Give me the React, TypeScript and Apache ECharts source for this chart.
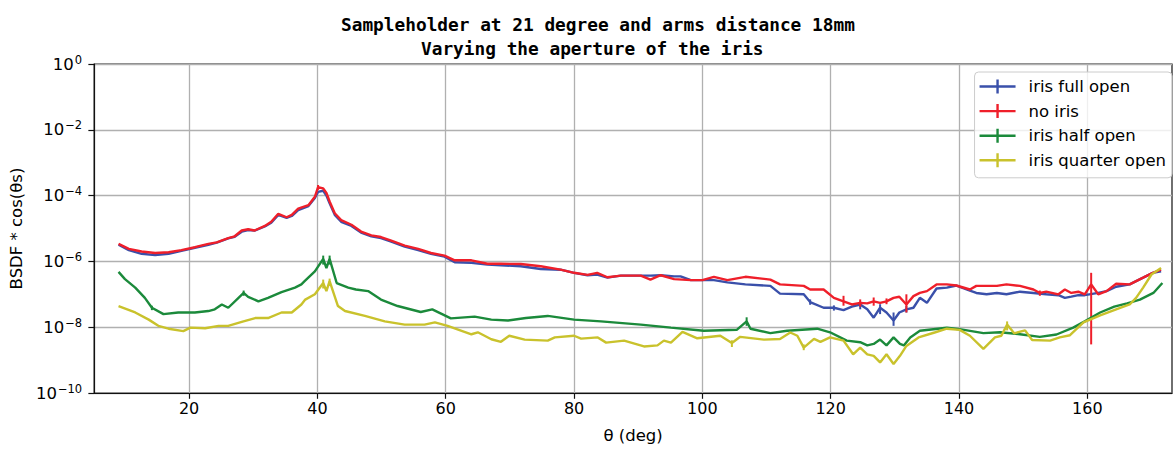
import React, { useEffect, useRef } from "react";
import * as echarts from "echarts";

const TITLE_LINE_1 = "Sampleholder at 21 degree and arms distance 18mm";
const TITLE_LINE_2 = "Varying the aperture of the iris";
const X_NAME = "θ (deg)";
const Y_NAME = "BSDF * cos(θs)";
const X_TICKS = [20, 40, 60, 80, 100, 120, 140, 160];
const Y_TICKS = [1e-10, 1e-8, 1e-6, 1e-4, 1e-2, 1];

const SERIES_NAMES = ["iris full open", "no iris", "iris half open", "iris quarter open"];
const SERIES_COLORS = ["#3a50aa", "#ef1f2a", "#1b8a3b", "#c9c22c"];

// [theta (deg), BSDF*cos]
const irisFullOpen = [
  [9, 3.2e-6], [10.6, 2.2e-6], [12.6, 1.7e-6], [14.7, 1.55e-6], [16.8, 1.7e-6], [18.8, 2.1e-6],
  [20.9, 2.6e-6], [23, 3.2e-6], [24.3, 3.7e-6], [26.1, 5.0e-6], [27.1, 5.6e-6], [28.2, 8.0e-6],
  [29.2, 9.0e-6], [30.2, 8.6e-6], [31.8, 1.15e-5], [32.8, 1.5e-5], [33.9, 2.6e-5], [35.2, 2.1e-5],
  [36, 2.4e-5], [37, 3.6e-5], [38.6, 4.8e-5], [39.6, 8.5e-5], [40.1, 1.3e-4], [40.9, 1.4e-4],
  [41.4, 1.0e-4], [41.9, 5.8e-5], [42.7, 2.6e-5], [43.7, 1.6e-5], [45.3, 1.2e-5], [46.8, 7.5e-6],
  [48.4, 5.8e-6], [49.9, 5.1e-6], [51.5, 4.0e-6], [53.6, 2.8e-6], [55.7, 2.2e-6], [57.7, 1.7e-6],
  [59.8, 1.4e-6], [61.4, 9.4e-7], [64, 9.0e-7], [66.5, 8.0e-7], [68.6, 7.6e-7], [71.7, 7.1e-7],
  [74.8, 5.9e-7], [77.9, 5.6e-7], [80, 4.5e-7], [82.1, 3.8e-7], [83.6, 4.0e-7], [85.2, 3.2e-7],
  [87.3, 3.7e-7], [90.4, 3.7e-7], [91.9, 3.7e-7], [93.5, 3.8e-7], [95.6, 3.5e-7], [96.6, 3.5e-7],
  [98.2, 2.7e-7], [100, 2.7e-7], [101.8, 2.7e-7], [103.9, 2.3e-7], [106.7, 2.0e-7], [110.6, 1.8e-7],
  [112.1, 1.05e-7], [115.8, 1.0e-7], [116.8, 5.8e-8], [118.9, 3.9e-8], [120.5, 3.9e-8], [122, 3.3e-8],
  [123.3, 4.2e-8], [124.6, 4.9e-8], [125.7, 3.5e-8], [126.7, 1.95e-8], [127.7, 3.9e-8], [128.7, 2.8e-8],
  [129.8, 1.6e-8], [130.7, 2.8e-8], [131.8, 3.5e-8], [132.9, 3.9e-8], [133.9, 7.8e-8], [135, 5.5e-8],
  [136.5, 1.5e-7], [138.1, 1.6e-7], [139.6, 1.85e-7], [141.7, 1.3e-7], [142.7, 1.1e-7], [144.3, 1.0e-7],
  [145.9, 1.1e-7], [147.4, 1.0e-7], [149.5, 1.2e-7], [151.6, 1.1e-7], [153.6, 1.0e-7], [155.5, 9.4e-8],
  [156.5, 7.8e-8], [157.5, 8.5e-8], [158.6, 9.4e-8], [159.6, 9.4e-8], [161.7, 1.1e-7], [163, 1.25e-7],
  [164.5, 1.7e-7], [166.6, 2.0e-7], [168.7, 3.2e-7], [170.2, 4.5e-7], [171.5, 5.0e-7],
];

const noIris = [
  [9, 3.4e-6], [10.6, 2.4e-6], [12.6, 2.0e-6], [14.7, 1.8e-6], [16.8, 1.9e-6], [18.8, 2.2e-6],
  [20.9, 2.7e-6], [23, 3.4e-6], [24.3, 3.8e-6], [26.1, 5.1e-6], [27.1, 5.8e-6], [28.2, 8.7e-6],
  [29.2, 9.5e-6], [30.2, 8.7e-6], [31.8, 1.2e-5], [32.8, 1.6e-5], [33.9, 2.8e-5], [35.2, 2.2e-5],
  [36, 2.6e-5], [37, 4.0e-5], [38.6, 5.1e-5], [39.6, 9.2e-5], [40.1, 1.8e-4], [40.9, 1.65e-4],
  [41.4, 1.2e-4], [41.9, 6.6e-5], [42.7, 2.9e-5], [43.7, 1.8e-5], [45.3, 1.3e-5], [46.8, 8.1e-6],
  [48.4, 6.2e-6], [49.9, 5.5e-6], [51.5, 4.3e-6], [53.6, 3.0e-6], [55.7, 2.4e-6], [57.7, 1.8e-6],
  [59.8, 1.5e-6], [61.4, 1.08e-6], [64, 1.08e-6], [66.5, 8.5e-7], [68.6, 8.5e-7], [71.7, 8.3e-7],
  [74.8, 7.1e-7], [77.9, 5.6e-7], [80, 4.5e-7], [82.1, 3.9e-7], [83.6, 4.5e-7], [85.2, 3.3e-7],
  [87.3, 3.7e-7], [90.4, 3.7e-7], [91.9, 2.8e-7], [93.5, 3.8e-7], [95.6, 2.9e-7], [98.2, 2.7e-7],
  [100, 2.7e-7], [101.8, 3.4e-7], [103.9, 2.7e-7], [106.7, 3.4e-7], [110.6, 2.8e-7], [112.1, 2.0e-7],
  [115.8, 1.8e-7], [116.8, 1.4e-7], [118.9, 1.4e-7], [120.5, 7.8e-8], [122, 6.1e-8], [123.3, 4.9e-8],
  [124.6, 5.5e-8], [125.7, 5.3e-8], [126.7, 6.1e-8], [127.7, 5.5e-8], [128.7, 6.1e-8], [129.8, 7.8e-8],
  [130.7, 8.4e-8], [131.8, 4.9e-8], [132.9, 8.8e-8], [133.9, 1.1e-7], [135, 1.25e-7], [136.5, 2.0e-7],
  [138.1, 2.0e-7], [139.6, 1.85e-7], [141.7, 1.4e-7], [142.7, 1.8e-7], [144.3, 1.8e-7], [145.9, 1.8e-7],
  [147.4, 2.0e-7], [149.5, 1.8e-7], [151.6, 1.4e-7], [152.6, 1.1e-7], [153.6, 1.2e-7], [155.5, 1.0e-7],
  [156.5, 1.4e-7], [157.5, 1.1e-7], [158.6, 1.2e-7], [159.6, 1.0e-7], [160.6, 2.0e-7], [161.7, 1.0e-7],
  [163, 1.25e-7], [164.5, 2.1e-7], [166.6, 2.0e-7], [168.7, 3.2e-7], [170.2, 4.5e-7], [171.5, 5.6e-7],
];

const irisHalfOpen = [
  [9, 4.8e-7], [10, 2.9e-7], [11.6, 1.6e-7], [13.1, 7.8e-8], [14.2, 3.9e-8], [16, 2.5e-8],
  [18.3, 2.8e-8], [20.9, 2.8e-8], [23, 3.1e-8], [24, 3.5e-8], [25.1, 4.9e-8], [26.1, 3.9e-8],
  [27.7, 7.8e-8], [28.5, 1.1e-7], [29.2, 8.4e-8], [30.8, 6.1e-8], [32.3, 7.8e-8], [34.4, 1.17e-7],
  [36.5, 1.6e-7], [37.5, 2.0e-7], [38, 2.5e-7], [39.6, 5.0e-7], [40.9, 1.2e-6], [41.4, 6.3e-7],
  [41.9, 1.2e-6], [43, 2.2e-7], [44.8, 1.6e-7], [46, 1.4e-7], [47.9, 1.25e-7], [49.9, 6.9e-8],
  [52.5, 4.4e-8], [56.1, 2.9e-8], [57.9, 3.5e-8], [60.8, 1.85e-8], [64.5, 2.1e-8], [67.1, 1.7e-8],
  [69.7, 1.6e-8], [72.5, 1.9e-8], [75.9, 2.2e-8], [80, 1.7e-8], [84.2, 1.5e-8], [90.4, 1.2e-8],
  [95.1, 9.7e-9], [100.2, 7.8e-9], [105.4, 8.4e-9], [106.9, 1.5e-8], [107.5, 9.0e-9], [110.6, 6.6e-9],
  [113.2, 7.8e-9], [117.9, 9.0e-9], [119.9, 7.0e-9], [122.5, 3.9e-9], [124.6, 3.5e-9], [125.7, 2.8e-9],
  [126.7, 3.1e-9], [127.7, 4.2e-9], [128.7, 2.8e-9], [129.8, 4.9e-9], [130.8, 3.1e-9], [131.4, 2.8e-9],
  [132.4, 4.9e-9], [133.9, 7.8e-9], [136, 8.7e-9], [138.1, 9.6e-9], [140.1, 8.7e-9], [143.8, 6.6e-9],
  [146.4, 7.0e-9], [149.5, 6.1e-9], [152.6, 5.1e-9], [155.2, 6.0e-9], [157.8, 9.7e-9], [159.6, 1.5e-8],
  [162, 2.8e-8], [164.2, 4.2e-8], [166.2, 5.3e-8], [168.2, 6.9e-8], [170.3, 1.1e-7], [171.7, 2.2e-7],
];

const irisQuarterOpen = [
  [9, 4.4e-8], [11.6, 2.8e-8], [13.7, 1.7e-8], [15.2, 1.1e-8], [16.8, 9.0e-9], [19.1, 7.6e-9],
  [20.2, 9.7e-9], [22.5, 9.3e-9], [24.6, 1.1e-8], [26.1, 1.1e-8], [28.2, 1.45e-8], [30.3, 1.9e-8],
  [32.3, 1.9e-8], [34.4, 2.8e-8], [36, 2.8e-8], [37.5, 4.9e-8], [38.1, 6.9e-8], [39.6, 1.0e-7],
  [40.9, 2.2e-7], [41.4, 1.25e-7], [41.9, 2.5e-7], [43.2, 4.4e-8], [44.3, 3.1e-8], [47.4, 2.2e-8],
  [50.5, 1.5e-8], [53.6, 1.2e-8], [56.7, 1.2e-8], [58.3, 1.4e-8], [60.3, 1.1e-8], [64, 6.1e-9],
  [65, 7.0e-9], [67.1, 4.3e-9], [68.6, 3.6e-9], [69.9, 5.5e-9], [72.3, 4.2e-9], [75.9, 3.9e-9],
  [77, 4.9e-9], [80, 5.5e-9], [81.1, 4.5e-9], [83.7, 4.9e-9], [85, 3.4e-9], [87.8, 3.9e-9],
  [90.9, 2.6e-9], [93, 2.8e-9], [94, 3.9e-9], [95.1, 3.4e-9], [96.9, 7.2e-9], [99.2, 4.6e-9],
  [102.8, 5.5e-9], [104.6, 3.3e-9], [105.9, 5.1e-9], [109.6, 4.2e-9], [112.1, 4.4e-9], [113.7, 6.9e-9],
  [114.8, 5.5e-9], [115.8, 2.4e-9], [117.4, 4.4e-9], [118.4, 3.6e-9], [119.9, 4.9e-9], [122, 3.9e-9],
  [123.5, 1.5e-9], [124.6, 2.4e-9], [125.7, 1.5e-9], [126.7, 1.35e-9], [127.7, 8.5e-10], [128.7, 1.5e-9],
  [129.8, 7.6e-10], [130.8, 1.35e-9], [131.8, 2.7e-9], [133.7, 4.9e-9], [136.2, 6.9e-9], [138.1, 9.0e-9],
  [140.1, 8.3e-9], [141.7, 5.5e-9], [143.8, 2.2e-9], [145.6, 4.9e-9], [146.6, 5.5e-9], [147.5, 1.2e-8],
  [148.6, 6.5e-9], [150.3, 8.0e-9], [151.4, 4.1e-9], [154.2, 3.9e-9], [155.7, 4.9e-9], [157.3, 5.7e-9],
  [159.4, 1.4e-8], [162, 2.3e-8], [164.5, 3.5e-8], [166.6, 4.9e-8], [167.6, 7.8e-8], [168.7, 1.6e-7],
  [170, 4.0e-7], [171.5, 6.3e-7],
];

// error bars: [theta, low, high]
const irisFullOpenErr = [
  [116.8, 4.8e-8, 7.0e-8], [120.5, 3.2e-8, 4.6e-8], [124.6, 3.5e-8, 6.0e-8],
  [127.7, 2.5e-8, 5.0e-8], [129.8, 1.1e-8, 2.8e-8], [131.8, 2.8e-8, 4.4e-8],
];
const noIrisErr = [
  [40.1, 1.5e-4, 2.1e-4], [122, 4.5e-8, 9.0e-8], [124.6, 4.2e-8, 7.0e-8], [126.7, 4.5e-8, 8.0e-8],
  [128.7, 5.0e-8, 7.5e-8], [131.8, 2.8e-8, 1.0e-7], [152.6, 9.0e-8, 1.3e-7], [160.6, 3.0e-9, 4.5e-7],
];
const irisHalfOpenErr = [
  [14.2, 3.3e-8, 4.5e-8], [28.5, 9.0e-8, 1.3e-7], [40.9, 8.0e-7, 1.5e-6], [41.9, 8.0e-7, 1.5e-6],
  [106.9, 1.1e-8, 2.0e-8],
];
const irisQuarterOpenErr = [
  [40.9, 1.5e-7, 2.8e-7], [41.9, 1.8e-7, 3.0e-7], [104.6, 2.5e-9, 4.0e-9], [115.8, 2.0e-9, 3.0e-9],
  [147.5, 8.0e-9, 1.5e-8],
];

const LINES = [irisFullOpen, noIris, irisHalfOpen, irisQuarterOpen];
const ERRS = [irisFullOpenErr, noIrisErr, irisHalfOpenErr, irisQuarterOpenErr];

const SUP: Record<string, string> = { "-": "−" };

export default function App() {
  const ref = useRef<HTMLDivElement>(null);
  useEffect(() => {
    document.body.style.margin = "0";
    if (!ref.current) return;
    const chart = echarts.init(ref.current, null, { renderer: "svg" });
    const font = "DejaVu Sans";
    const lineSeries = LINES.map((d, i) => ({
      name: SERIES_NAMES[i],
      type: "line",
      data: d,
      showSymbol: false,
      symbol: "none",
      lineStyle: { color: SERIES_COLORS[i], width: 2.4 },
      itemStyle: { color: SERIES_COLORS[i] },
      z: 3 + i,
    }));
    const errSeries = ERRS.map((d, i) => ({
      name: SERIES_NAMES[i] + " err",
      type: "custom",
      data: d,
      encode: { x: 0, y: [1, 2] },
      z: 3 + i,
      renderItem: (params: any, api: any) => {
        const x = api.value(0);
        const p1 = api.coord([x, api.value(1)]);
        const p2 = api.coord([x, api.value(2)]);
        return {
          type: "line",
          shape: { x1: p1[0], y1: p1[1], x2: p2[0], y2: p2[1] },
          style: { stroke: SERIES_COLORS[i], lineWidth: 2 },
        };
      },
    }));
    chart.setOption({
      animation: false,
      title: [
        {
          text: TITLE_LINE_1,
          left: 336,
          top: 10,
          textStyle: { fontFamily: "DejaVu Sans Mono", fontWeight: "bold", fontSize: 17.8, color: "#000" },
        },
        {
          text: TITLE_LINE_2,
          left: 416,
          top: 34,
          textStyle: { fontFamily: "DejaVu Sans Mono", fontWeight: "bold", fontSize: 17.8, color: "#000" },
        },
      ],
      grid: { left: 92, right: 4, top: 64, bottom: 52, show: true, borderColor: "#111", borderWidth: 1.2, backgroundColor: "transparent" },
      legend: {
        orient: "vertical",
        right: 4,
        top: 72,
        itemWidth: 36,
        itemHeight: 14,
        itemGap: 7.6,
        padding: [6, 6, 9, 5],
        backgroundColor: "rgba(255,255,255,0.8)",
        borderColor: "#cccccc",
        borderWidth: 1,
        borderRadius: 4,
        textStyle: { fontFamily: font, fontSize: 16.5, color: "#000", padding: [0, 0, 0, 8] },
        data: SERIES_NAMES.map((n, i) => ({
          name: n,
          icon: "path://M0,5.8H36V8.2H0Z M16.8,0H19.2V14H16.8Z",
          itemStyle: { color: SERIES_COLORS[i] },
        })),
      },
      xAxis: {
        type: "value",
        min: 5.2,
        max: 173.2,
        splitNumber: 8,
        minInterval: 20,
        maxInterval: 20,
        name: X_NAME,
        nameLocation: "middle",
        nameGap: 34,
        nameTextStyle: { fontFamily: font, fontSize: 16.5, color: "#000" },
        axisLine: { show: true, onZero: false, lineStyle: { color: "#111", width: 1.2 } },
        axisTick: { show: true, length: 5.8, customValues: X_TICKS, lineStyle: { color: "#111", width: 1.2 } },
        axisLabel: { customValues: X_TICKS, margin: 7, fontFamily: font, fontSize: 16, color: "#000" },
        splitLine: { show: true, lineStyle: { color: "#b0b0b0", width: 1.3 } },
      },
      yAxis: {
        type: "log",
        logBase: 10,
        min: 1e-10,
        max: 1,
        name: Y_NAME,
        nameLocation: "middle",
        nameGap: 66,
        nameTextStyle: { fontFamily: font, fontSize: 16.5, color: "#000" },
        axisLine: { show: true, onZero: false, lineStyle: { color: "#111", width: 1.2 } },
        axisTick: { show: true, length: 5.8, customValues: Y_TICKS, lineStyle: { color: "#111", width: 1.2 } },
        axisLabel: {
          customValues: Y_TICKS,
          margin: 12,
          formatter: (v: number) => {
            const e = Math.round(Math.log10(v));
            const s = String(e).split("").map((c) => SUP[c] || c).join("");
            return `{b|10}{s|${s}}`;
          },
          rich: {
            b: { fontFamily: font, fontSize: 16.5, color: "#000" },
            s: { fontFamily: font, fontSize: 11.5, color: "#000", padding: [0, 0, 9, 1] },
          },
        },
        splitLine: { show: true, lineStyle: { color: "#b0b0b0", width: 1.3 } },
      },
      series: [...lineSeries, ...errSeries],
    });
    return () => chart.dispose();
  }, []);
  return <div ref={ref} style={{ width: 1176, height: 449 }} />;
}
